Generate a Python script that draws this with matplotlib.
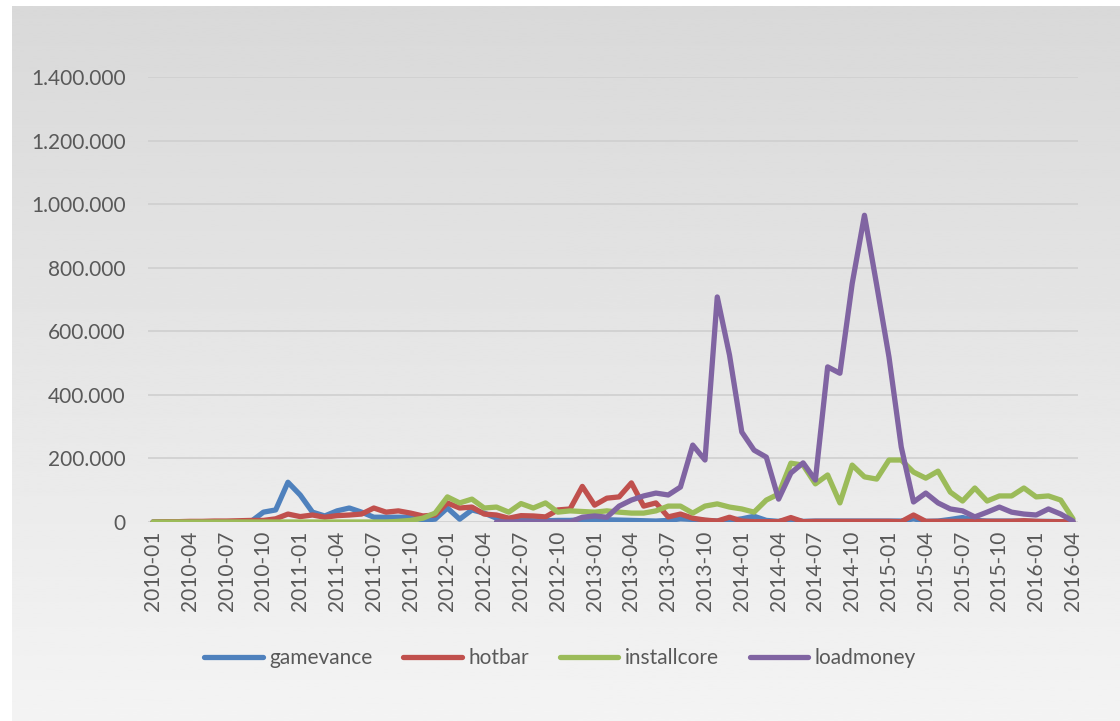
import numpy as np
import pandas as pd
import matplotlib
matplotlib.use('Agg')
import matplotlib.pyplot as plt
from matplotlib.ticker import FuncFormatter

# Monthly counts, 2010-01 .. 2016-04
months = pd.period_range('2010-01', '2016-04', freq='M').strftime('%Y-%m').tolist()

gamevance = [0, 0, 0, 0, 0, 0, 0, 0, 2000, 31000,
             38000, 125000, 85000, 31000, 19000, 35000, 44000, 31000, 15000, 15000,
             15000, 15000, 6000, 9000, 44000, 9000, 38000, 28000, 12000, 8000,
             5000, 4000, 4000, 5000, 5000, 7000, 8000, 7000, 6000, 5000,
             4000, 3000, 5000, 10000, 8000, 5000, 3000, 5000, 10000, 18000,
             5000, 2000, 8000, 2000, 3000, 3000, 3000, 3000, 3000, 3000,
             3000, 3000, 10000, 2000, 3000, 8000, 14000, 5000, 3000, 3000,
             3000, 3000, 2000, 2000, 1000, 0]

hotbar = [0, 1000, 1000, 2000, 2000, 3000, 3000, 4000, 5000, 5000,
          10000, 25000, 17000, 22000, 15000, 20000, 22000, 25000, 44000, 31000,
          35000, 28000, 19000, 22000, 60000, 44000, 47000, 25000, 22000, 12000,
          20000, 19000, 16000, 38000, 41000, 112000, 53000, 75000, 79000, 123000,
          50000, 60000, 16000, 25000, 12000, 6000, 3000, 15000, 3000, 1000,
          1000, 1000, 14000, 1000, 2000, 2000, 2000, 2000, 2000, 2000,
          2000, 1000, 22000, 2000, 2000, 2000, 2000, 2000, 2000, 2000,
          2000, 4000, 2000, 1000, 1000, 0]

installcore = [0, 0, 0, 0, 0, 0, 0, 0, 0, 0,
               0, 0, 0, 0, 0, 0, 0, 0, 0, 0,
               2000, 5000, 12000, 28000, 79000, 60000, 72000, 44000, 47000, 31000,
               58000, 44000, 60000, 31000, 35000, 33000, 31000, 35000, 31000, 28000,
               28000, 35000, 50000, 50000, 28000, 50000, 57000, 47000, 41000, 31000,
               69000, 88000, 185000, 179000, 120000, 148000, 60000, 179000, 142000, 135000,
               195000, 195000, 157000, 138000, 160000, 94000, 66000, 107000, 66000, 82000,
               82000, 107000, 79000, 82000, 69000, 10000]

loadmoney = [np.nan] * 28 + [
    0, 0, 0, 0, 0, 0, 0, 15000, 19000, 15000,
    50000, 69000, 82000, 91000, 85000, 110000, 242000, 195000, 708000, 525000,
    283000, 226000, 204000, 72000, 154000, 186000, 132000, 488000, 468000, 750000,
    965000, 745000, 519000, 236000, 63000, 91000, 60000, 41000, 35000, 16000,
    31000, 47000, 31000, 25000, 22000, 41000, 25000, 3000]

series = [('gamevance', gamevance, '#4F81BD'),
          ('hotbar', hotbar, '#C0504D'),
          ('installcore', installcore, '#9BBB59'),
          ('loadmoney', loadmoney, '#8064A2')]

plt.rcParams['font.family'] = ['Lato', 'DejaVu Sans']

fig = plt.figure(figsize=(11.2, 7.21), dpi=100)
fig.patch.set_facecolor('white')

# gray gradient chart area
bg = fig.add_axes([12 / 1120, 0, 1 - 12 / 1120, 1 - 6 / 721], zorder=0)
grad = np.linspace(0.85, 0.955, 256).reshape(-1, 1)
bg.imshow(grad, aspect='auto', cmap='gray', vmin=0, vmax=1, extent=[0, 1, 0, 1], origin='upper')
bg.axis('off')

ax = fig.add_axes([148 / 1120, 1 - 522 / 721, 930 / 1120, 445 / 721], zorder=1)
ax.patch.set_alpha(0)

x = np.arange(len(months))
for name, vals, color in series:
    ax.plot(x, vals, color=color, lw=3.8, label=name, solid_capstyle='round', solid_joinstyle='round')

ax.set_xlim(-0.41, len(months) - 1 + 0.41)
ax.set_ylim(0, 1400000)
ax.set_yticks(np.arange(0, 1400001, 200000))
ax.yaxis.set_major_formatter(FuncFormatter(lambda v, p: f'{int(v):,}'.replace(',', '.')))
ax.set_xticks(x[::3])
ax.set_xticklabels(months[::3], rotation=90)
ax.tick_params(axis='both', length=0, colors='#595959', labelsize=15)
ax.tick_params(axis='y', pad=16)
ax.tick_params(axis='x', pad=6)
ax.grid(axis='y', color='#cfcfcf', lw=1.2)
ax.set_axisbelow(True)
for s in ax.spines.values():
    s.set_visible(False)

fig.legend(loc='center', bbox_to_anchor=(0.5, 1 - 658 / 721), ncol=4, frameon=False,
           fontsize=15, labelcolor='#595959', handlelength=2.8, handletextpad=0.3,
           columnspacing=1.5)

fig.savefig('out.png', dpi=100)
